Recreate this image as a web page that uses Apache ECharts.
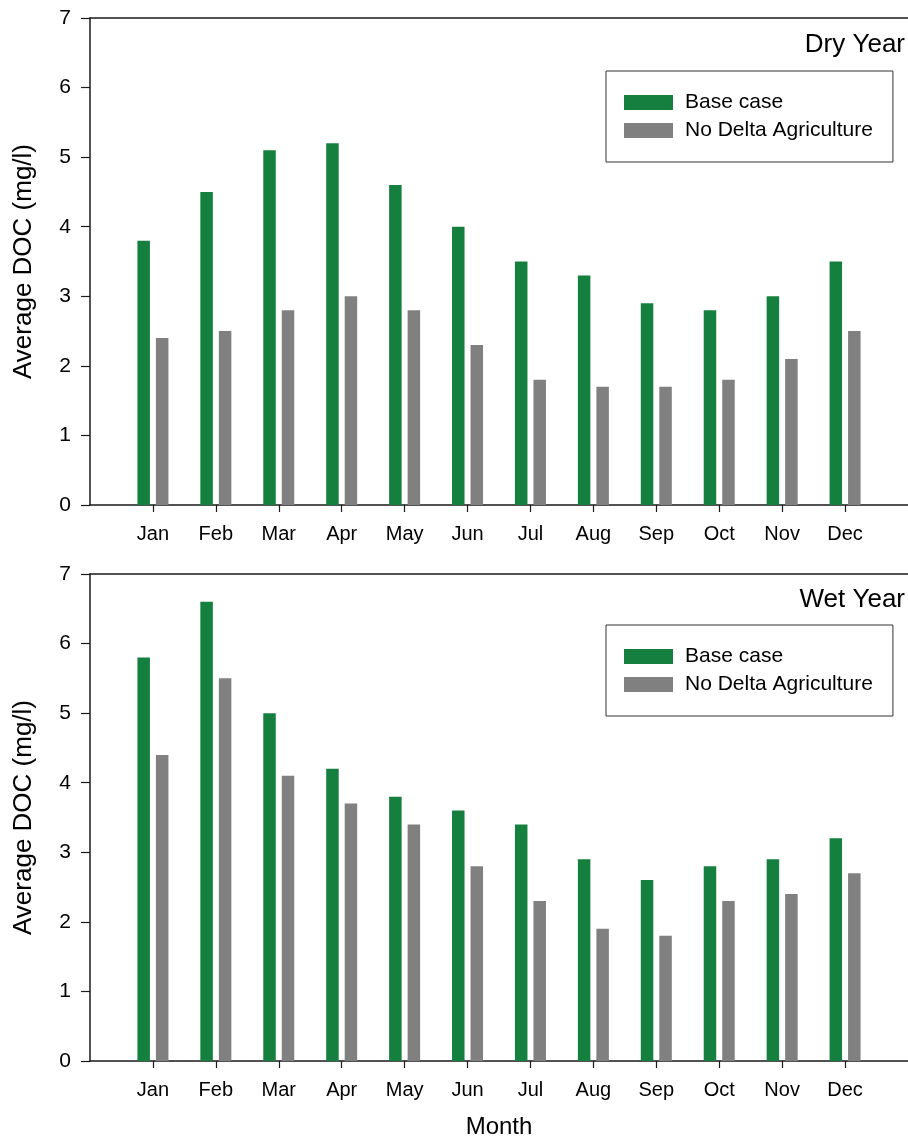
<!DOCTYPE html>
<html>
<head>
<meta charset="utf-8">
<script src="https://cdn.jsdelivr.net/npm/echarts@6/dist/echarts.min.js"></script>
<style>
html,body{margin:0;padding:0;background:#fff;}
#chart{width:908px;height:1137px;}
</style>
</head>
<body>
<div id="chart"></div>
<script>
const months = ['Jan','Feb','Mar','Apr','May','Jun','Jul','Aug','Sep','Oct','Nov','Dec'];
const yTicks = [0,1,2,3,4,5,6,7];
const seriesNames = ['Base case','No Delta Agriculture'];
const panelTitles = ['Dry Year','Wet Year'];
const dryBase = [3.8,4.5,5.1,5.2,4.6,4.0,3.5,3.3,2.9,2.8,3.0,3.5];
const dryNoAg = [2.4,2.5,2.8,3.0,2.8,2.3,1.8,1.7,1.7,1.8,2.1,2.5];
const wetBase = [5.8,6.6,5.0,4.2,3.8,3.6,3.4,2.9,2.6,2.8,2.9,3.2];
const wetNoAg = [4.4,5.5,4.1,3.7,3.4,2.8,2.3,1.9,1.8,2.3,2.4,2.7];

const FONT = 'Liberation Sans, Arial, Helvetica, sans-serif';
const AX = '#1a1a1a';
const GREEN = '#157f3f';
const GRAY = '#808080';
const monthPos = months.map((m,i)=>i+1);
const toPts = arr => arr.map((v,i)=>[i+1,v]);

const grids = [
  {left:90, top:18, height:487, right:0, outerBoundsMode:'none', containLabel:false},
  {left:90, top:574, height:487, right:0, outerBoundsMode:'none', containLabel:false}
];

function xBottom(gi, withName){
  return {
    type:'value', gridIndex:gi, position:'bottom', min:0, max:13, interval:1,
    axisLine:{show:true, lineStyle:{color:AX, width:1.5}},
    axisTick:{show:true, inside:false, length:7, lineStyle:{color:AX, width:1.2}, customValues:monthPos},
    axisLabel:{show:true, margin:19, fontSize:20, color:'#000', fontFamily:FONT,
      customValues:monthPos, formatter:v=>months[Math.round(v)-1]||''},
    splitLine:{show:false},
    name: withName ? 'Month' : '', nameLocation:'middle', nameGap:54,
    nameTextStyle:{fontSize:24, color:'#000', fontFamily:FONT}
  };
}
function xTop(gi){
  return {
    type:'value', gridIndex:gi, position:'top', min:0, max:13,
    axisLine:{show:true, lineStyle:{color:AX, width:1.5}},
    axisTick:{show:false}, axisLabel:{show:false}, splitLine:{show:false}
  };
}
function yAx(gi){
  return {
    type:'value', gridIndex:gi, min:yTicks[0], max:yTicks[yTicks.length-1], interval:1,
    axisLine:{show:true, lineStyle:{color:AX, width:1.5}},
    axisTick:{show:true, inside:false, length:9, lineStyle:{color:AX, width:1.2}},
    axisLabel:{margin:19, fontSize:21, color:'#000', fontFamily:FONT},
    splitLine:{show:false},
    name:'Average DOC (mg/l)', nameLocation:'middle', nameGap:53,
    nameTextStyle:{fontSize:26, color:'#000', fontFamily:FONT}
  };
}
function bar(name, color, data, gi){
  return {
    type:'bar', name:name, xAxisIndex:gi*2, yAxisIndex:gi,
    data:toPts(data), barWidth:12.5, barGap:'48%',
    itemStyle:{color:color}, emphasis:{disabled:true}, animation:false
  };
}
function legend(top){
  return {
    left:606, top:top, orient:'vertical', data:seriesNames,
    itemWidth:49, itemHeight:15, itemGap:7,
    padding:[21,20,21,18], borderColor:'#333', borderWidth:1,
    icon:'rect',
    textStyle:{fontSize:21, color:'#000', fontFamily:FONT, lineHeight:21, padding:[0,0,0,7]}
  };
}

const chart = echarts.init(document.getElementById('chart'), null, {renderer:'canvas'});
chart.setOption({
  animation:false,
  backgroundColor:'#fff',
  textStyle:{fontFamily:FONT},
  title:[
    {text:panelTitles[0], right:3, top:32, padding:0, textStyle:{fontSize:26, fontWeight:'normal', color:'#000', fontFamily:FONT}},
    {text:panelTitles[1], right:3, top:587, padding:0, textStyle:{fontSize:26, fontWeight:'normal', color:'#000', fontFamily:FONT}}
  ],
  legend:[legend(71), legend(625)],
  grid:grids,
  xAxis:[xBottom(0,false), xTop(0), xBottom(1,true), xTop(1)],
  yAxis:[yAx(0), yAx(1)],
  series:[
    bar(seriesNames[0], GREEN, dryBase, 0),
    bar(seriesNames[1], GRAY, dryNoAg, 0),
    bar(seriesNames[0], GREEN, wetBase, 1),
    bar(seriesNames[1], GRAY, wetNoAg, 1)
  ]
});
</script>
</body>
</html>
